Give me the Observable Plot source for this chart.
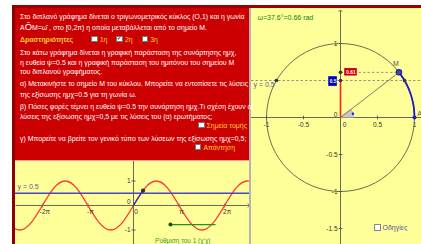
<!DOCTYPE html>
<html><head><meta charset="utf-8">
<script src="https://cdn.jsdelivr.net/npm/d3@7"></script>
<script src="https://cdn.jsdelivr.net/npm/@observablehq/plot@0.6"></script>
<style>
body{margin:0;background:#fff;font-family:"Liberation Sans",Arial,sans-serif;}
#app{position:relative;width:421px;height:244px;overflow:hidden;background:#fff}
.abs{position:absolute}
.ln{position:absolute;white-space:nowrap;color:#fff;font-size:6.8px;line-height:9px;height:9px}
.cb{display:inline-block;width:4.5px;height:4.5px;background:#fff;border:0.6px solid #777;vertical-align:-0.5px;margin-right:2px;position:relative}
.or{color:#ffcc33}
</style></head><body><div id="app">
<div class="abs" style="left:12px;top:5px;width:409px;height:3px;background:#990000"></div>
<div class="abs" style="left:12px;top:5px;width:3px;height:239px;background:#8b0000"></div>
<div class="abs" style="left:15px;top:8px;width:234px;height:152px;background:#cc0000"></div>
<div class="abs" style="left:15px;top:160px;width:234px;height:1px;background:#ff9a9a"></div>
<div class="abs" style="left:15px;top:161px;width:234px;height:83px;background:#ffff99"></div>
<div class="abs" style="left:249px;top:8px;width:2px;height:236px;background:#b4b4b4"></div>
<div class="abs" style="left:251px;top:8px;width:170px;height:236px;background:#ffff99"></div>
<div id="txt"></div>
<div id="sine" class="abs" style="left:15px;top:161px;width:234px;height:83px;overflow:hidden"></div>
<div id="circ" class="abs" style="left:251px;top:8px;width:170px;height:236px;overflow:hidden"></div>
<div class="abs" style="left:374px;top:223px;white-space:nowrap;font-size:7px;line-height:9px;color:#5555a0"><span class="cb" style="border-color:#888"></span>Οδηγίες</div>
</div>
<script>
// ---- data ----
const level = 0.5;            // y = 0.5
const omegaDeg = 37.6;        // ω in degrees
const omegaRad = 0.66;        // ω in rad
const sinM = 0.61;            // sine of M
const cosM = 0.79;            // cosine of M
const sineQuarter = [-12,-11,-10,-9,-8,-7,-6,-5,-4,-3,-2,-1,0,1,2,3,4,5,6,7,8,9,10,11,12]; // x in units of π/4
const sineValues  = [0,-0.71,-1,-0.71,0,0.71,1,0.71,0,-0.71,-1,-0.71,0,0.71,1,0.71,0,-0.71,-1,-0.71,0,0.71,1,0.71,0];
const arcSineX = [0, 0.33, 0.66];
const arcSineY = [0, 0.32, 0.61];
const circleX = [1,0.924,0.707,0.383,0,-0.383,-0.707,-0.924,-1,-0.924,-0.707,-0.383,0,0.383,0.707,0.924];
const circleY = [0,0.383,0.707,0.924,1,0.924,0.707,0.383,0,-0.383,-0.707,-0.924,-1,-0.924,-0.707,-0.383];
const arcX = [1,0.987,0.947,0.881,0.792];
const arcY = [0,0.163,0.322,0.473,0.610];
const piTicks = [-2,-1,0,1,2];
const piLabels = ["-2π","-π","0","π","2π"];
const sineYTicks = [1,-1];
const circXTicks = [-1,-0.5,0.5,1];
const circXLabels = ["-1","-0.5","0.5","1"];
const circYTicks = [1,-0.5,-1,-1.5];
const circYLabels = ["1","-0.5","-1","-1.5"];
const intersectX = [-0.866, 0.866];
const textLines = [
  "Στο διπλανό γράφημα δίνεται ο τριγωνομετρικός κύκλος (O,1) και η γωνία",
  "A<span style='font-size:1.35em'>Ô</span>M=ω̂ , στο [0,2π) η οποία μεταβάλλεται από το σημείο M.",
  "<b class='or' style='margin-right:18px'>Δραστηριότητες</b><span class='cb'></span><span class='or' style='margin-right:9px'>1η</span><span class='cb'><span style='position:absolute;left:0;top:-3px;font-size:5px;color:#333'>✔</span></span><span class='or' style='margin-right:9px'>2η</span><span class='cb'></span><span class='or'>3η</span>",
  "Στο κάτω γράφημα δίνεται η γραφική παράσταση της συνάρτησης ημχ,",
  "η ευθεία ψ=0.5 και η γραφική παράσταση του ημιτόνου του σημείου M",
  "του διπλανού γραφήματος.",
  "α) Μετακινήστε το σημείο M του κύκλου. Μπορείτε να εντοπίσετε τις λύσεις",
  "της εξίσωσης ημχ=0.5 για τη γωνία ω.",
  "β) Πόσες φορές τέμνει η ευθεία ψ=0.5 την συνάρτηση ημχ.Τι σχέση έχουν οι",
  "λύσεις της εξίσωσης ημχ=0,5 με τις λύσεις του (α) ερωτήματος;",
  "<span class='cb'></span><span class='or'>Σημεία τομής</span>",
  "γ) Μπορείτε να βρείτε τον γενικό τύπο των λύσεων της εξίσωσης ημχ=0,5;",
  "<span class='cb'></span><span class='or'>Απάντηση</span>"
];
const lineCenters = [16,27.3,39.3,52.7,62,71.3,83.3,94.5,106,116,125,138.3,147.3];
const lineRightAligned = [false,false,false,false,false,false,false,false,false,false,true,false,true];
const lineRights = {10:247, 12:235};

// ---- text panel ----
const txt = document.getElementById("txt");
const divs = textLines.map((t,i)=>{
  const d = document.createElement("div");
  d.className = "ln";
  d.style.top = (lineCenters[i]-4.5)+"px";
  if (lineRightAligned[i]) d.style.right = (421-lineRights[i])+"px";
  else d.style.left = "20px";
  d.innerHTML = t;
  txt.appendChild(d);
  return d;
});
// fit the first line to its span in the reference (x 20 → 245)
const w0 = divs[0].getBoundingClientRect().width;
const fs = 6.8 * 225 / w0;
divs.forEach(d=>d.style.fontSize = fs+"px");

// ---- lower graph: y = sin x ----
const sineData = sineQuarter.map((q,i)=>({x:q*Math.PI/4, y:sineValues[i]}));
const arcSine = arcSineX.map((x,i)=>({x, y:arcSineY[i]}));
const xMin = -8.138, xMax = 8.0;
const sinePlot = Plot.plot({
  width:234, height:83, margin:0,
  x:{domain:[xMin,xMax], axis:null},
  y:{domain:[-1.592,1.796], axis:null},
  style:{background:"transparent", fontFamily:"Liberation Sans, Arial, sans-serif", overflow:"hidden"},
  marks:[
    Plot.link([0],{x1:xMin,x2:xMax-0.05,y1:0,y2:0,stroke:"#444",strokeWidth:0.8,markerEnd:"arrow"}),
    Plot.ruleX([0],{stroke:"#444",strokeWidth:0.8}),
    Plot.link(sineYTicks,{x1:-0.15,x2:0.15,y1:d=>d,y2:d=>d,stroke:"#444",strokeWidth:0.8}),
    Plot.link(piTicks.filter(d=>d!==0),{x1:d=>d*Math.PI,x2:d=>d*Math.PI,y1:-0.08,y2:0.08,stroke:"#444",strokeWidth:0.8}),
    Plot.line(sineData,{x:"x",y:"y",curve:"natural",stroke:"#ff3b3b",strokeWidth:1.4}),
    Plot.ruleY([level],{stroke:"#4646c8",strokeWidth:1.4}),
    Plot.line(arcSine,{x:"x",y:"y",curve:"natural",stroke:"#3232c8",strokeWidth:1.4}),
    Plot.dot([{x:omegaRad,y:sinM}],{x:"x",y:"y",r:1.9,fill:"#333",stroke:"#111",strokeWidth:0.4}),
    Plot.text(piTicks,{x:d=>d*Math.PI,y:0,text:(d,i)=>piLabels[i],dx:2.5,dy:6,fontSize:6.5,fill:"#333"}),
    Plot.text(sineYTicks,{x:0,y:d=>d,text:d=>String(d),dx:-3,textAnchor:"end",fontSize:6.5,fill:"#333"}),
    Plot.text([0],{x:0,y:0,text:d=>String(d),dx:-3,dy:-4,textAnchor:"end",fontSize:6.5,fill:"#333"}),
    Plot.text([level],{x:xMin,y:d=>d,text:d=>"y = "+d,dx:2,dy:-6,textAnchor:"start",fontSize:7,fill:"#5a5aa5"}),
    Plot.link([-0.78],{x1:2.55,x2:5.66,y1:d=>d,y2:d=>d,stroke:"#1e961e",strokeWidth:1.4}),
    Plot.dot([-0.78],{x:2.55,y:d=>d,r:2,fill:"#145014"}),
    Plot.text(["Ρύθμιση του 1 (χ'χ)"],{x:3.4,y:-1.43,text:d=>d,fontSize:6.5,fill:"#3c9a3c"})
  ]
});
document.getElementById("sine").appendChild(sinePlot);

// ---- right graph: trigonometric circle ----
const circle = circleX.map((x,i)=>({x, y:circleY[i]}));
const arc = arcX.map((x,i)=>({x, y:arcY[i]}));
const cxMin = -1.2027, cxMax = 1.0946, cyMin = -1.716, cyMax = 1.473;
const sectorR = 0.18;
const sector = [{x:0,y:0},{x:sectorR,y:0},{x:sectorR*0.947,y:sectorR*0.322},{x:sectorR*0.792,y:sectorR*0.61}];
const circPlot = Plot.plot({
  width:170, height:236, margin:0,
  x:{domain:[cxMin,cxMax], axis:null},
  y:{domain:[cyMin,cyMax], axis:null},
  style:{background:"transparent", fontFamily:"Liberation Sans, Arial, sans-serif", overflow:"hidden"},
  marks:[
    Plot.ruleY([0],{stroke:"#444",strokeWidth:0.8}),
    Plot.link([0],{x1:0,x2:0,y1:cyMin,y2:cyMax-0.03,stroke:"#444",strokeWidth:0.8,markerEnd:"arrow"}),
    Plot.link(circXTicks,{x1:d=>d,x2:d=>d,y1:-0.025,y2:0.025,stroke:"#444",strokeWidth:0.8}),
    Plot.link(circYTicks,{x1:-0.025,x2:0.025,y1:d=>d,y2:d=>d,stroke:"#444",strokeWidth:0.8}),
    Plot.text(circXTicks,{x:d=>d,y:0,text:(d,i)=>circXLabels[i],dy:7,fontSize:6.5,fill:"#333"}),
    Plot.text([0],{x:0,y:0,text:d=>String(d),dx:4,dy:7,fontSize:6.5,fill:"#333"}),
    Plot.text([0],{x:0,y:0,text:d=>String(d),dx:-3,dy:-3,textAnchor:"end",fontSize:6.5,fill:"#333"}),
    Plot.text(circYTicks,{x:0,y:d=>d,text:(d,i)=>circYLabels[i],dx:-3,textAnchor:"end",fontSize:6.5,fill:"#333"}),
    Plot.line(circle,{x:"x",y:"y",curve:"catmull-rom-closed",stroke:"#5c5c44",strokeWidth:0.9}),
    Plot.ruleY([level],{stroke:"#8a8a8a",strokeWidth:0.9,strokeDasharray:"2.5,2"}),
    Plot.link([sinM],{x1:0,x2:cosM,y1:d=>d,y2:d=>d,stroke:"#8a8a8a",strokeWidth:0.9,strokeDasharray:"2.5,2"}),
    Plot.line(sector,{x:"x",y:"y",curve:"linear-closed",fill:"#c9c9cf",stroke:"#9a9aa8",strokeWidth:0.5}),
    Plot.dot([{x:sectorR*0.93,y:sectorR*0.28}],{x:"x",y:"y",r:1.2,fill:"#1c1cc8"}),
    Plot.link([{x:cosM,y:sinM}],{x1:0,y1:0,x2:"x",y2:"y",stroke:"#6e6e5a",strokeWidth:0.9}),
    Plot.link([level],{x1:0,x2:0,y1:0,y2:d=>d,stroke:"#ff2020",strokeWidth:1.6}),
    Plot.line(arc,{x:"x",y:"y",curve:"catmull-rom",stroke:"#1c1cc8",strokeWidth:1.8}),
    Plot.dot(intersectX,{x:d=>d,y:level,r:1.8,fill:"#333"}),
    Plot.dot([level,sinM],{x:0,y:d=>d,r:1.8,fill:"#333"}),
    Plot.dot([{x:1,y:0}],{x:"x",y:"y",r:2,fill:"#1c1cc8"}),
    Plot.dot([{x:cosM,y:sinM}],{x:"x",y:"y",r:2.6,fill:"#555",stroke:"#1c1cc8",strokeWidth:1.3}),
    Plot.rect([sinM],{x1:0.054,x2:0.23,y1:d=>d-0.054,y2:d=>d+0.054,fill:"#cc0000",stroke:"#ffffff",strokeWidth:0.4}),
    Plot.text([sinM],{x:0.142,y:d=>d,text:d=>String(d),fontSize:4.8,fontWeight:"bold",fill:"#fff"}),
    Plot.rect([level],{x1:-0.162,x2:-0.04,y1:d=>d-0.082,y2:d=>d+0.054,fill:"#0000bb",stroke:"#ffffff",strokeWidth:0.4}),
    Plot.text([level],{x:-0.101,y:d=>d-0.014,text:d=>String(d),fontSize:4.8,fontWeight:"bold",fill:"#fff"}),
    Plot.text([level],{x:cxMin,y:d=>d,text:d=>"y = "+d,dx:2,dy:4,textAnchor:"start",fontSize:7,fill:"#5a5aa5"}),
    Plot.text(["M"],{x:cosM,y:sinM,text:d=>d,dx:-3,dy:-9,fontSize:7,fill:"#555"}),
    Plot.text(["A"],{x:1,y:0,text:d=>d,dx:5,dy:-4,fontSize:7,fill:"#555"}),
    Plot.text([{d:omegaDeg,r:omegaRad}],{frameAnchor:"top-left",text:o=>"ω="+o.d+"°="+o.r+" rad",dx:6,dy:7,textAnchor:"start",fontSize:7,fill:"#108010"})
  ]
});
document.getElementById("circ").appendChild(circPlot);
</script></body></html>
